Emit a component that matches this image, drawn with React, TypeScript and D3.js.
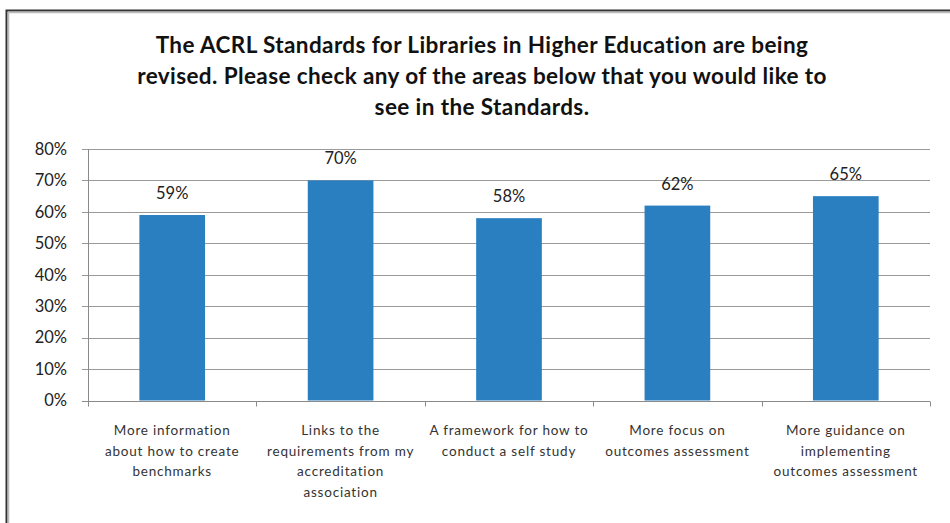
import React, { useEffect, useRef } from 'react';
import * as d3 from 'd3';

const titleLines = [
  'The ACRL Standards for Libraries in Higher Education are being',
  'revised. Please check any of the areas below that you would like to',
  'see in the Standards.',
];

const categories = [
  ['More information', 'about how to create', 'benchmarks'],
  ['Links to the', 'requirements from my', 'accreditation', 'association'],
  ['A framework for how to', 'conduct a self study'],
  ['More focus on', 'outcomes assessment'],
  ['More guidance on', 'implementing', 'outcomes assessment'],
];

const values = [59, 70, 58, 62, 65];
const yTicks = [0, 10, 20, 30, 40, 50, 60, 70, 80];

const W = 950;
const H = 523;
const FONT = 'Lato, "Open Sans", sans-serif';

export default function App() {
  const svgRef = useRef<SVGSVGElement | null>(null);

  useEffect(() => {
    const svg = d3.select(svgRef.current);
    svg.selectAll('*').remove();

    // chart frame: dark outer line, light inner line (right/bottom run off the picture)
    svg.append('path')
      .attr('d', `M6.5,${H + 5} V10.5 H${W + 5}`)
      .attr('fill', 'none')
      .attr('stroke', '#333')
      .attr('stroke-width', 2);
    svg.append('path')
      .attr('d', `M8.5,${H + 5} V12.5 H${W + 5}`)
      .attr('fill', 'none')
      .attr('stroke', '#bbb')
      .attr('stroke-width', 1.5);

    // --- Title ---
    svg.append('g')
      .selectAll('text')
      .data(titleLines)
      .enter()
      .append('text')
      .attr('x', 482)
      .attr('y', (d, i) => 53 + i * 31)
      .attr('text-anchor', 'middle')
      .style('font-family', FONT)
      .style('font-weight', 'bold')
      .style('font-size', '22.5px')
      .style('letter-spacing', '0.4px')
      .attr('fill', '#111')
      .text(d => d);

    // --- Scales ---
    const left = 88;
    const right = 930;
    const x = d3.scaleBand<number>()
      .domain(d3.range(categories.length))
      .range([left, right])
      .paddingInner(0.61)
      .paddingOuter(0.305);
    const y = d3.scaleLinear().domain([0, 80]).range([400.5, 149]);
    const step = (right - left) / categories.length;

    // gridlines + y ticks
    const grid = svg.append('g');
    grid.selectAll('line')
      .data(yTicks)
      .enter()
      .append('line')
      .attr('x1', left - 6)
      .attr('x2', right)
      .attr('y1', d => Math.round(y(d)) + 0.5)
      .attr('y2', d => Math.round(y(d)) + 0.5)
      .attr('stroke', '#9a9a9a')
      .attr('stroke-width', 1);

    grid.selectAll('text')
      .data(yTicks)
      .enter()
      .append('text')
      .attr('x', 67)
      .attr('y', d => y(d))
      .attr('dy', '0.35em')
      .attr('text-anchor', 'end')
      .style('font-family', FONT)
      .style('font-size', '16.5px')
      .attr('fill', '#222')
      .text(d => `${d}%`);

    // --- Bars ---
    svg.append('g')
      .selectAll('rect')
      .data(values)
      .enter()
      .append('rect')
      .attr('x', (d, i) => x(i)!)
      .attr('width', x.bandwidth())
      .attr('y', d => y(d))
      .attr('height', d => y(0) - y(d))
      .attr('fill', '#2a7fc1');

    // value labels
    svg.append('g')
      .selectAll('text')
      .data(values)
      .enter()
      .append('text')
      .attr('x', (d, i) => x(i)! + x.bandwidth() / 2)
      .attr('y', d => y(d) - 16)
      .attr('text-anchor', 'middle')
      .style('font-family', FONT)
      .style('font-size', '16.5px')
      .attr('fill', '#222')
      .text(d => `${d}%`);

    // axes lines
    const x0 = Math.round(y(0)) + 0.5;
    svg.append('line')
      .attr('x1', left + 0.5).attr('x2', left + 0.5)
      .attr('y1', y(80)).attr('y2', x0)
      .attr('stroke', '#8a8a8a');
    svg.append('line')
      .attr('x1', left - 6).attr('x2', right)
      .attr('y1', x0).attr('y2', x0)
      .attr('stroke', '#8a8a8a');
    svg.append('g')
      .selectAll('line')
      .data(d3.range(categories.length + 1))
      .enter()
      .append('line')
      .attr('x1', d => Math.round(left + d * step) + 0.5)
      .attr('x2', d => Math.round(left + d * step) + 0.5)
      .attr('y1', x0)
      .attr('y2', x0 + 5)
      .attr('stroke', '#8a8a8a');

    // category labels
    const cats = svg.append('g')
      .selectAll('text')
      .data(categories)
      .enter()
      .append('text')
      .attr('text-anchor', 'middle')
      .style('font-family', FONT)
      .style('font-size', '13.5px')
      .style('letter-spacing', '0.8px')
      .attr('fill', '#333');
    cats.selectAll('tspan')
      .data((d, i) => d.map(line => ({ line, i })))
      .enter()
      .append('tspan')
      .attr('x', d => x(d.i)! + x.bandwidth() / 2)
      .attr('y', (d, j) => 435 + j * 20.7)
      .text(d => d.line);
  }, []);

  return (
    <svg
      ref={svgRef}
      width={W}
      height={H}
      style={{ position: 'absolute', left: 0, top: 0, background: '#fff' }}
    />
  );
}
